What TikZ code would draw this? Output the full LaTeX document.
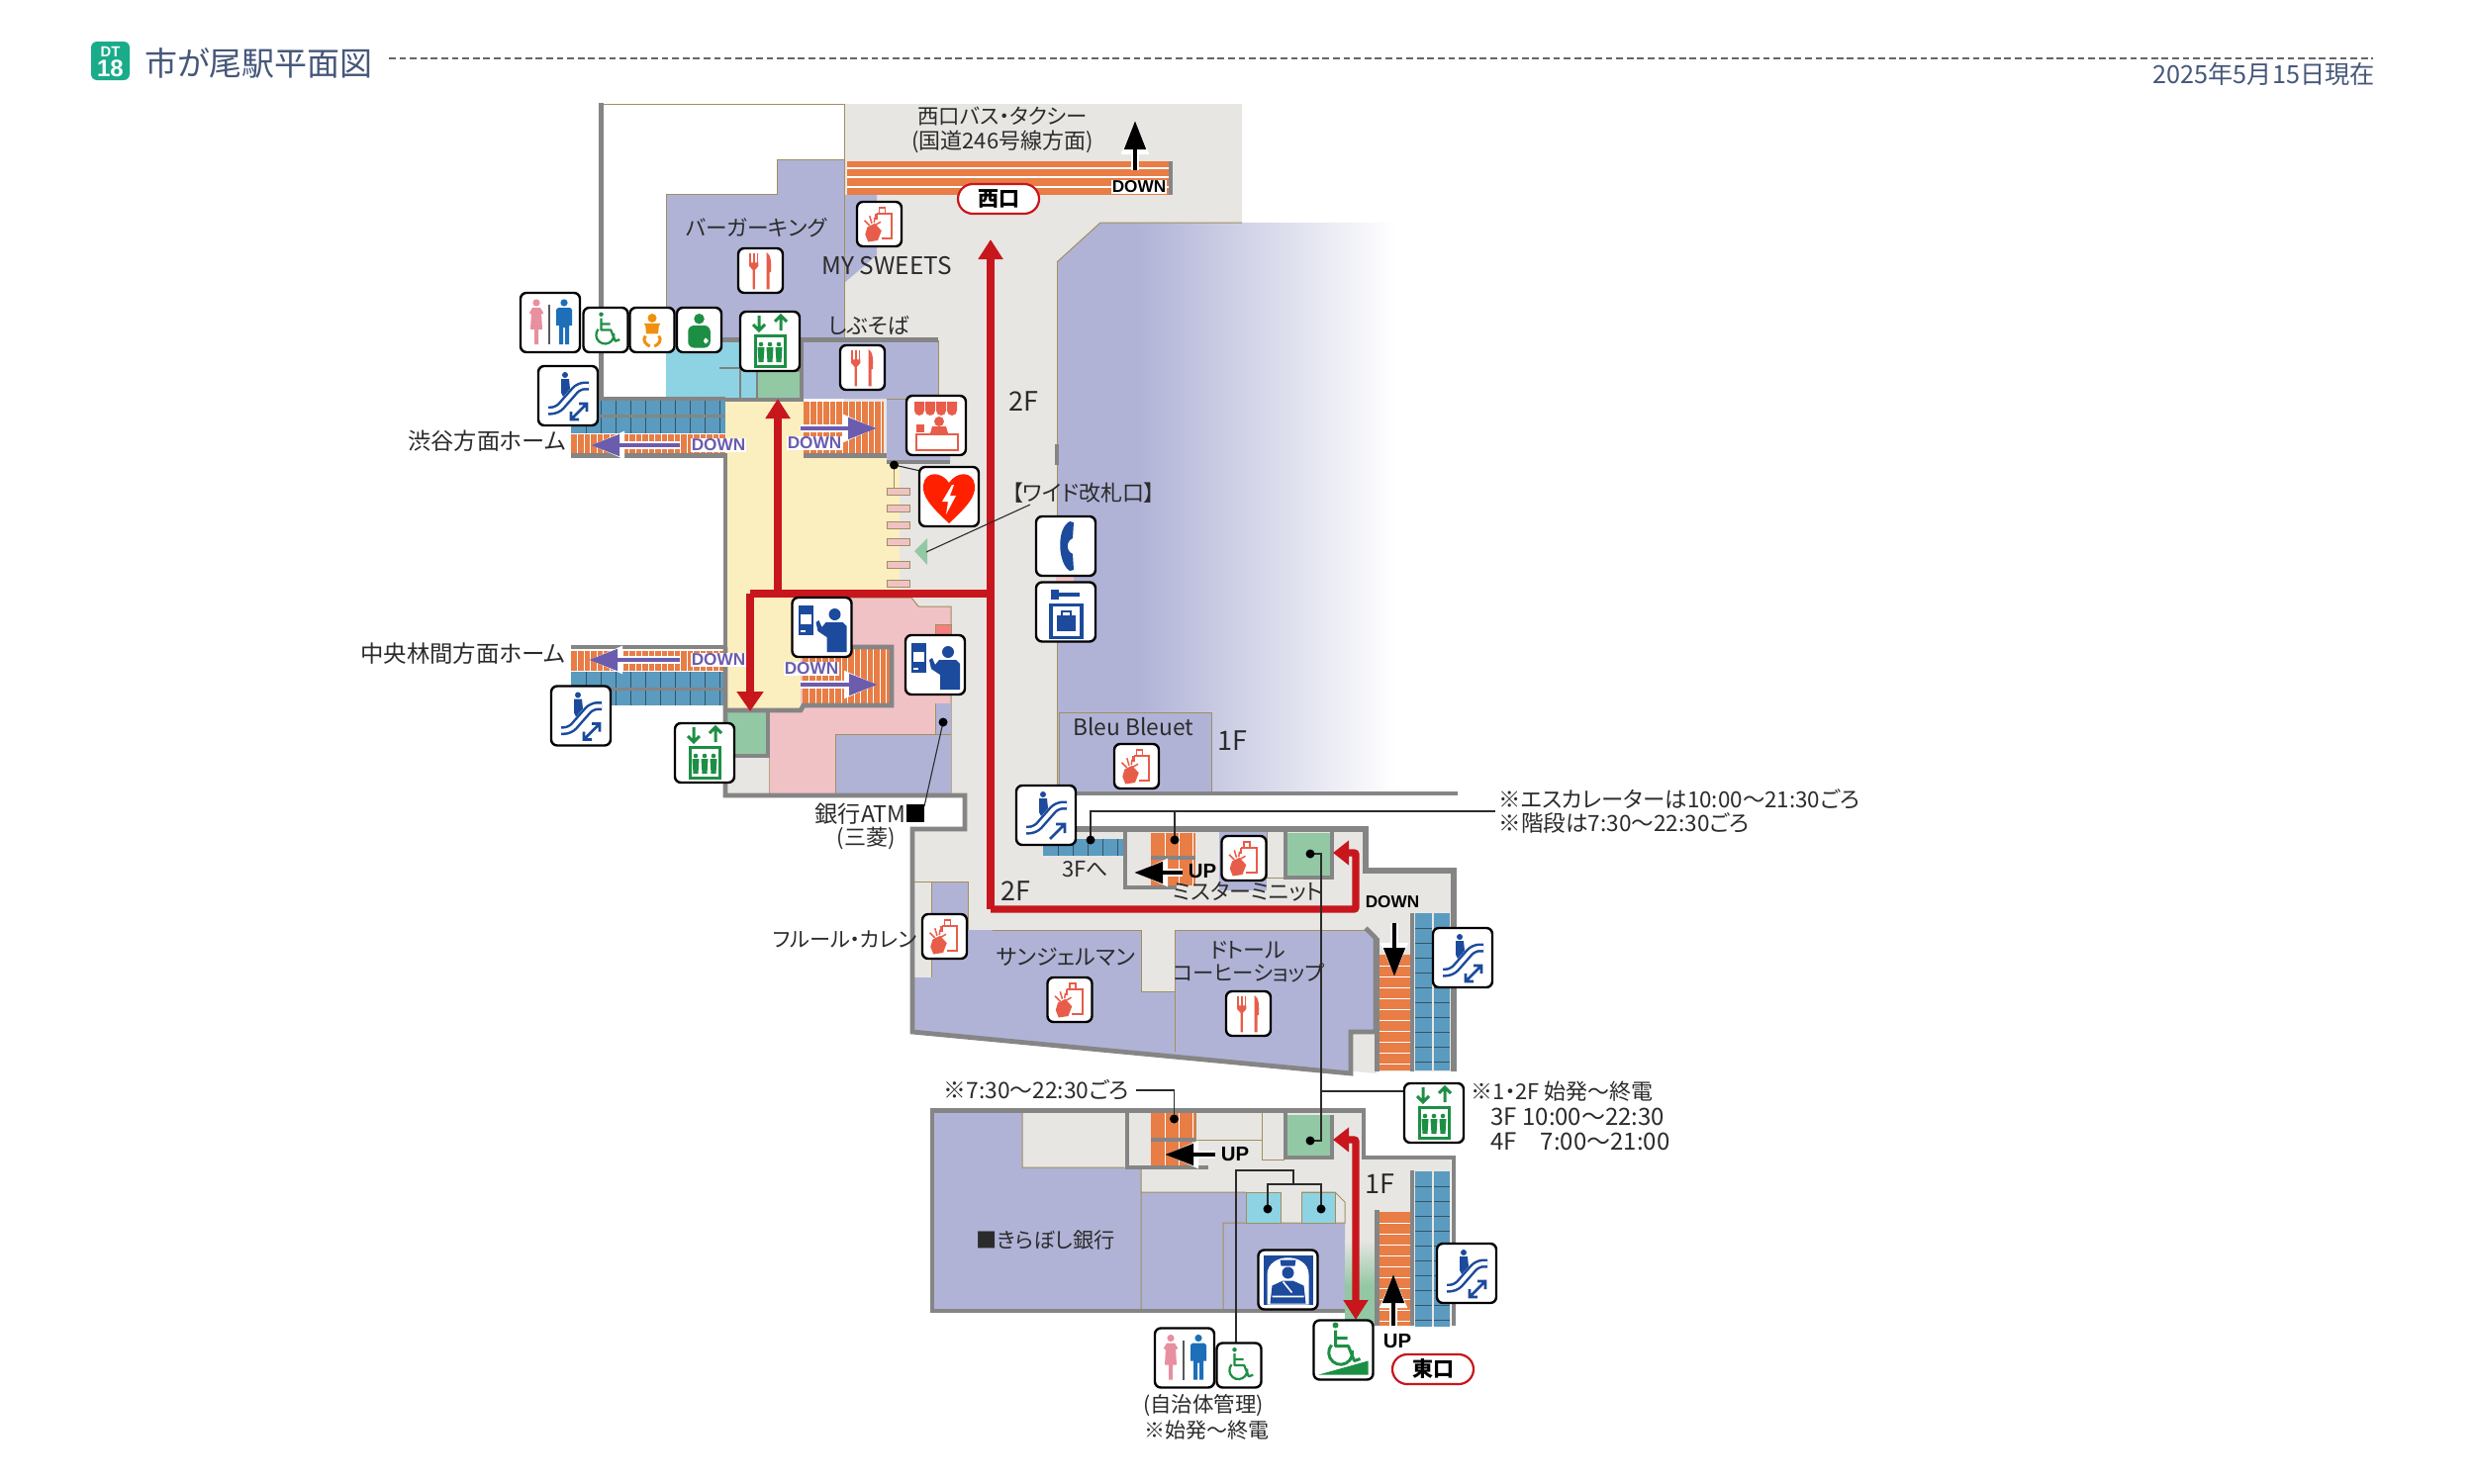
\documentclass[tikz,border=0pt]{standalone}
\usepackage{fontspec}
\setmainfont[RawFeature={+palt}]{Noto Sans CJK JP}
\newfontfamily\latinbold{Liberation Sans}
\usetikzlibrary{arrows.meta,calc}
\definecolor{cgray}{HTML}{E8E6E3}
\definecolor{cpur}{HTML}{B0B3D6}
\definecolor{cyel}{HTML}{FBEEBF}
\definecolor{cpink}{HTML}{F0C2C5}
\definecolor{cteal}{HTML}{8DD3E3}
\definecolor{cgrn}{HTML}{93C8A4}
\definecolor{corg}{HTML}{E87D45}
\definecolor{cblu}{HTML}{5B9BBF}
\definecolor{cwall}{HTML}{858585}
\definecolor{ctan}{HTML}{A08F60}
\definecolor{cred}{HTML}{C8161D}
\definecolor{cvio}{HTML}{6B5CAE}
\definecolor{ctitle}{HTML}{46577A}
\definecolor{cbadge}{HTML}{1AAB8A}
\definecolor{icb}{HTML}{1C4A9C}
\definecolor{icg}{HTML}{1D8F45}
\definecolor{icr}{HTML}{E85D4A}
\definecolor{icp}{HTML}{E88FA0}
\definecolor{icm}{HTML}{1C6FB8}
\definecolor{ico}{HTML}{F09010}
\definecolor{ctxt}{HTML}{2B2B2B}
\tikzset{
  wall/.style={draw=cwall,line width=2.4pt},
  tanl/.style={draw=ctan,line width=0.5pt},
  ld/.style={draw=ctxt,line width=0.55pt},
  lw/.style={line width={#1*0.5pt*\ics}},
  iconbox/.style={draw=black,fill=white,line width=1.2pt,rounded corners=3pt,inner sep=0pt},
  lbl/.style={inner sep=0pt,text=ctxt,font=\fontsize{#1}{#1}\selectfont,align=center},
  lbl/.default=10,
  pill/.style={draw=cred,line width=1.1pt,fill=white,rounded corners=7.5pt,minimum width=41pt,minimum height=15pt,inner sep=0pt,font=\fontsize{10.5}{10.5}\selectfont\bfseries},
  redl/.style={draw=cred,line width=3.7pt,line join=miter},
}
\newcommand{\icon}[5]{%
  \node[iconbox,minimum width={#4*0.5pt},minimum height={#4*0.5pt}] (#1) at (#2,#3) {};
  \begin{scope}[shift={(#2,#3)},scale={#4/60}]\pgfmathsetmacro\ics{#4/60}#5\end{scope}}
\newcommand{\lab}[5]{\node[lbl=#1,anchor=#4] (#5) at (#2) {#3};}
\newcommand{\dlab}[4]{\node[inner sep=0pt,font=\latinbold\bfseries\fontsize{8.6}{8.6}\selectfont,text=#1] (#4) at (#2) {#3};}
\newcommand{\dlabw}[4]{\node[inner sep=0.5pt,fill=white,font=\latinbold\bfseries\fontsize{8.6}{8.6}\selectfont,text=#1] (#4) at (#2) {#3};}
\newcommand{\ulab}[3]{\node[inner sep=0pt,font=\latinbold\bfseries\fontsize{10.2}{10.2}\selectfont] (#3) at (#1) {#2};}
% white-edged arrow: colour, from, to
\newcommand{\garrow}[3]{%
  \draw[white,line width=4pt,-{Triangle[length=17pt,width=13pt]}] #2 -- #3;
  \draw[#1,line width=2.4pt,-{Triangle[length=14.5pt,width=10.5pt]}] #2 -- #3;}
\newcommand{\stV}[5]{\fill[corg] (#1,#2) rectangle (#3,#4);
  \pgfmathtruncatemacro\nn{(#3-#1)/#5}
  \foreach \i in {1,...,\nn}{\draw[white,line width=0.5pt] ({#1+\i*#5},#2) -- ({#1+\i*#5},#4);}}
\newcommand{\stH}[5]{\fill[corg] (#1,#2) rectangle (#3,#4);
  \pgfmathtruncatemacro\nn{(#4-#2)/#5}
  \foreach \i in {1,...,\nn}{\draw[white,line width=0.5pt] (#1,{#2+\i*#5}) -- (#3,{#2+\i*#5});}}
\newcommand{\escH}[4]{\fill[cblu] (#1,#2) rectangle (#3,#4);
  \pgfmathtruncatemacro\nn{(#3-#1)/15}
  \foreach \i in {1,...,\nn}{\draw[black!45!cblu,line width=0.35pt] ({#1+\i*15},#2) -- ({#1+\i*15},#4);}}
\newcommand{\escV}[4]{\fill[cblu] (#1,#2) rectangle (#3,#4);
  \pgfmathtruncatemacro\nn{(#4-#2)/15}
  \foreach \i in {1,...,\nn}{\draw[black!45!cblu,line width=0.35pt] (#1,{#2+\i*15}) -- (#3,{#2+\i*15});}}
% glyphs
\newcommand{\gEscBase}{%
  \fill[icb] (-3,-21) circle[radius=3];
  \fill[icb] (-7,-17) -- (1,-17) -- (2,-7) -- (-5,1) -- (-7,-3) -- cycle;
  \draw[icb,lw=9,rounded corners=3pt] (-20,15) -- (-11,15) -- (11,-10) -- (21,-10);
  \draw[white,lw=4,rounded corners=3pt] (-20,15) -- (-11,15) -- (11,-10) -- (21,-10);}
\newcommand{\gEscUp}{\gEscBase
  \draw[icb,lw=2.6] (4,24) -- (19,9) (10,9) -- (19,9) -- (19,18);}
\newcommand{\gEsc}{\gEscBase
  \draw[icb,lw=2.6] (3,24) -- (19,8) (11,8) -- (19,8) -- (19,16) (3,16) -- (3,24) -- (11,24);}
\newcommand{\gPeople}{\foreach \px in {-9,0,9}{%
    \fill[icg] (\px,3) circle[radius=2.3];
    \fill[icg] ({\px-3.5},6) -- ({\px+3.5},6) -- ({\px+2.5},21) -- ({\px-2.5},21) -- cycle;}}
\newcommand{\gElev}{%
  \draw[icg,lw=3] (-11,-26) -- (-11,-11) (-17,-17) -- (-11,-11) -- (-5,-17);
  \draw[icg,lw=3] (11,-11) -- (11,-26) (5,-20) -- (11,-26) -- (17,-20);
  \draw[icg,lw=3] (-15,-6) rectangle (15,25);\gPeople}
\newcommand{\gBag}{%
  \draw[icr,lw=3] (-4,-14) -- (17,-14) -- (17,19) -- (3,19);
  \draw[icr,lw=2.5] (0,-14) -- (0,-22) -- (8,-22) -- (8,-14);
  \draw[icr,lw=3] (-4,-14) -- (-4,-6);
  \fill[icr] (-16,4) -- (-6,-1) -- (3,9) -- (-2,22) -- (-15,24) -- (-19,14) -- cycle;
  \draw[icr,lw=2] (-10,-1) -- (-13,-11) (-7,-2) -- (-6,-9) (-13,2) -- (-20,-5) (-5,1) -- (2,-3);}
\newcommand{\gFork}{%
  \draw[icr,lw=2.4] (-14,-24) -- (-14,-10) (-9,-24) -- (-9,-10) (-4,-24) -- (-4,-10);
  \fill[icr] (-15.2,-11) -- (-2.8,-11) -- (-2.8,-6) -- (-7.5,-1) -- (-7.5,25) -- (-10.5,25) -- (-10.5,-1) -- (-15.2,-6) -- cycle;
  \fill[icr] (8,-25) .. controls (14,-22) and (15,-10) .. (14,2) -- (12,2) -- (12,25) -- (8,25) -- cycle;}
\newcommand{\gTicket}{%
  \fill[icb] (-24,-22) rectangle (-9,8);
  \fill[white] (-22,-13) rectangle (-11,-3);
  \fill[white] (-22,3) rectangle (-17,5);
  \fill[icb] (13,-13) circle[radius=6];
  \fill[icb] (4,-5) -- (21,-5) -- (25,-1) -- (25,25) -- (5,25) -- (5,10) -- (-4,4) -- (-6,-5) -- (-3,-7) -- (0,0) -- cycle;}
\newcommand{\gWC}{%
  \fill[icp] (-14,-20) circle[radius=3.6];
  \fill[icp] (-18,-15) -- (-10,-15) -- (-7,-10) -- (-8,-8) -- (-9,-10) -- (-8,7) -- (-12,7) -- (-12,22) -- (-16,22) -- (-16,7) -- (-20,7) -- (-19,-10) -- (-20,-8) -- (-21,-10) -- cycle;
  \draw[black!65,lw=2.6] (-1,-18) -- (-1,22);
  \fill[icm] (14,-20) circle[radius=3.6];
  \fill[icm] (8,-15) -- (20,-15) -- (22,-13) -- (22,3) -- (19,3) -- (19,22) -- (15,22) -- (15,5) -- (13,5) -- (13,22) -- (9,22) -- (9,3) -- (6,3) -- (6,-13) -- cycle;}
\newcommand{\gWheelchair}{%
  \fill[icg] (-6,-21) circle[radius=3];
  \draw[icg,lw=3,line join=round] (-6,-16) -- (-6,0) -- (7,0) -- (13,15) -- (19,13) (-6,-8) -- (6,-8);
  \draw[icg,lw=3] (-10,-1) arc[start angle=220,end angle=-10,radius=12];}
\newcommand{\gWheel}{\gWheelchair}
\newcommand{\gBaby}{%
  \fill[ico] (0,-16) circle[radius=6];
  \fill[ico] (-11,-9) -- (-5,-9) -- (5,-9) -- (11,-9) -- (9,-5) -- (8,5) -- (-8,5) -- (-9,-5) -- cycle;
  \draw[ico,lw=4] (-9,8) .. controls (-14,14) and (-8,20) .. (-3,22) (9,8) .. controls (14,14) and (8,20) .. (3,22);}
\newcommand{\gMed}{%
  \fill[icg] (0,-15) circle[radius=7];
  \fill[icg,rounded corners=3pt] (-15,-6) -- (15,-6) -- (15,24) -- (-15,24) -- cycle;
  \fill[white] (6,13) rectangle (12,16) (7.5,11) rectangle (10.5,18);}
\newcommand{\gKiosk}{%
  \foreach \k in {-22,-11,0,11}{\fill[icr] (\k,-24) -- ({\k+10},-24) -- ({\k+10},-15) arc[start angle=0,end angle=180,radius=5] -- cycle;}
  \fill[icr] (3,-4) circle[radius=5];
  \fill[icr] (-6,8) -- (-4,1) -- (10,1) -- (12,8) -- cycle;
  \fill[icr] (-20,-1) rectangle (-12,7);
  \draw[icr,lw=2] (-20,9) rectangle (22,25);}
\newcommand{\gAED}{%
  \fill[red!75!orange] (0,27) .. controls (-16,12) and (-28,0) .. (-26,-12) .. controls (-24,-26) and (-8,-26) .. (0,-14) .. controls (8,-26) and (24,-26) .. (26,-12) .. controls (28,0) and (16,12) .. (0,27) -- cycle;
  \fill[white] (3,-12) -- (-7,5) -- (-1,5) -- (-3,18) -- (7,-1) -- (1,-1) -- (5,-12) -- cycle;}
\newcommand{\gPhone}{%
  \fill[icb] (4,-25) -- (8,-24) -- (7,-8) -- (4,-6) .. controls (1,-2) and (1,2) .. (4,6) -- (7,8) -- (8,24) -- (4,25) .. controls (-8,18) and (-10,-18) .. (4,-25) -- cycle;}
\newcommand{\gLocker}{%
  \fill[icb] (-15,-23) rectangle (-7,-13);
  \fill[icb] (-7,-20) rectangle (14,-16);
  \draw[icb,lw=3.6] (-15,-7) rectangle (16,26);
  \fill[icb] (-9,3) rectangle (10,19);
  \draw[icb,lw=2] (-4,3) -- (-4,-1) -- (5,-1) -- (5,3);}
\newcommand{\gPolice}{%
  \fill[icb] (-25,-25) rectangle (25,25);
  \fill[white] (-21,25) -- (-21,-5) .. controls (-21,-28) and (21,-28) .. (21,-5) -- (21,25) -- cycle;
  \fill[icb] (-8,-20) -- (8,-20) -- (7,-14) -- (-7,-14) -- cycle;
  \fill[icb] (0,-7) circle[radius=6];
  \fill[icb] (-18,24) -- (-16,6) -- (-5,1) -- (5,1) -- (16,6) -- (18,24) -- cycle;
  \draw[white,lw=1.6] (-5,2) -- (4,13) (-16,17) -- (16,17);}
\newcommand{\gRamp}{\begin{scope}[shift={(-2,-4)}]\gWheelchair\end{scope}
  \fill[icg] (-25,25) -- (25,11) -- (25,25) -- cycle;}
\begin{document}
\begin{tikzpicture}[x=0.5pt,y=-0.5pt]
\useasboundingbox (0,0) rectangle (2500,1499);
\fill[white] (0,0) rectangle (2500,1499);
% ===== floor areas =====
\fill[cgray] (853,105) -- (1255,105) -- (1255,225) -- (1112,225) -- (1068,265) -- (1068,838) -- (1378,838) -- (1378,880) -- (1466,880) -- (1466,1083) -- (1391,1083) -- (1391,1085) -- (922,1043) -- (922,838) -- (975,838) -- (975,802) -- (853,802) -- cycle;
% store
\fill[cpur] (1068,265) -- (1112,225) -- (1150,225) -- (1150,802) -- (1068,802) -- cycle;
\shade[left color=cpur,right color=white,shading=axis] (1150,225) rectangle (1410,802);
\draw[tanl] (1068,265) -- (1112,225) -- (1255,225);
\draw[tanl] (853,105) -- (853,161);
\draw[tanl] (607,105) -- (853,105);
\draw[tanl] (1068,265) -- (1068,802);
\fill[cpur] (1070,720) rectangle (1224,802);
\draw[tanl] (1224,802) -- (1224,720) -- (1070,720) -- (1070,802);
% burger king etc
\fill[cpur] (673,196) -- (785,196) -- (785,161) -- (853,161) -- (853,344) -- (673,344) -- cycle;
\fill[cpur] (853,197) -- (886,197) -- (886,258) -- (853,286) -- cycle;
\draw[tanl] (673,344) -- (673,196) -- (785,196) -- (785,161) -- (853,161) -- (853,344);
\fill[cteal] (673,344) rectangle (768,403);
\fill[cgrn] (766,376) rectangle (810,403);
\draw[ctxt!60,line width=0.7pt] (727,372) -- (748,372) -- (748,403) (765,372) -- (765,403);
\draw[wall,line width=1pt] (765,375) -- (810,375);
\fill[cpur] (812,344) -- (948,344) -- (948,400) -- (960,400) -- (960,467) -- (896,467) -- (896,403) -- (812,403) -- cycle;
\draw[tanl] (948,344) -- (948,400);
% concourse
\fill[cyel] (733,404) -- (812,404) -- (812,460) -- (896,460) -- (896,467) -- (909,467) -- (909,600) -- (809,600) -- (809,718) -- (733,718) -- cycle;
\draw[ctan,line width=0.4pt] (896,403) -- (916,403);
\fill[cpink] (809,604) -- (921,604) -- (928,613) -- (961,613) -- (961,802) -- (777,802) -- (777,718) -- (809,718) -- cycle;
\draw[tanl] (809,604) -- (921,604) -- (928,613) -- (961,613) -- (961,802) (777,718) -- (777,802);
\fill[cpur] (844,742) rectangle (961,802);
\fill[cpur] (945,711) rectangle (961,742);
\draw[tanl] (961,742) -- (844,742) -- (844,802) (945,742) -- (945,711);
\fill[red!35!cpink] (945,631) rectangle (961,642);
\draw[tanl] (945,631) rectangle (961,642);
\fill[cgrn] (734,720) rectangle (776,763);
\fill[cgray] (734,766) rectangle (777,802);
% gates
\foreach \a/\b in {493/500,510/517,527/534,544/551,567/574,586/593}{\fill[cpink] (896,\a) rectangle (919,\b);\draw[ctan,line width=0.35pt] (896,\a) rectangle (919,\b);}
\fill[cpink] (1067,582) rectangle (1085,590);
% west exit stairs
\fill[corg] (856,163) rectangle (1184,197);
\foreach \a in {170,179,189}{\draw[white,line width=0.8pt] (856,\a) -- (1184,\a);}
% north stairs and escalators
\escH{577}{403}{733}{419}
\escH{577}{422}{733}{438}
\fill[cwall] (577,419) rectangle (733,422);
\stV{577}{439}{733}{460}{6.5}
\stV{812}{406}{893}{460}{6.5}
\stV{577}{658}{733}{678}{6.5}
\escH{577}{679}{733}{695}
\escH{577}{697}{733}{713}
\fill[cwall] (577,695) rectangle (733,698);
\stV{811}{656}{899}{712}{6.5}
% 2F lower
\fill[cpur] (941.5,891) rectangle (978,940);
\fill[cpur] (941.5,940) rectangle (1003,988);
\draw[tanl] (941.5,988) -- (941.5,891) -- (978,891) -- (978,940) (1003,940) -- (1003,988) -- (924,988);
\draw[tanl] (924,891) -- (941,891);
\fill[cpur] (924,988) -- (1003,988) -- (1003,940) -- (1153,940) -- (1153,1002) -- (1187,1002) -- (1187,940) -- (1380,940) -- (1390,948) -- (1390,1043) -- (1365,1043) -- (1365,1085) -- (924,1043) -- cycle;
\draw[tanl] (1003,940) -- (1153,940) -- (1153,1002) -- (1187,1002) -- (1187,940) -- (1380,940);
\draw[tanl] (1187,1002) -- (1187,1063);
\escH{1054}{848}{1137}{865}
\stV{1163}{842}{1208}{895}{14}
\fill[cpur] (1232,840) rectangle (1280,900);
\draw[tanl] (1280,840) -- (1280,887) -- (1299,887);
\fill[cgrn] (1300,842) rectangle (1346,887);
\stH{1394}{965}{1425}{1082}{11}
\escV{1430}{923}{1447}{1082}
\escV{1449}{923}{1465}{1082}
% 1F
\fill[cgray] (943,1125) -- (1378,1125) -- (1378,1172) -- (1466,1172) -- (1466,1340) -- (1359,1340) -- (1359,1325) -- (943,1325) -- cycle;
\fill[cpur] (943,1125) -- (1033,1125) -- (1033,1180) -- (1153,1180) -- (1153,1205) -- (1259,1205) -- (1259,1236) -- (1359,1236) -- (1359,1325) -- (943,1325) -- cycle;
\draw[tanl] (1033,1125) -- (1033,1180) -- (1136,1180) (1153,1180) -- (1153,1325) (1153,1205) -- (1259,1205) (1236,1325) -- (1236,1236) -- (1359,1236) -- (1359,1215) -- (1349,1205) -- (1315,1205);
\fill[cteal] (1259,1205) rectangle (1294,1236);
\fill[cteal] (1315,1205) rectangle (1349,1236);
\draw[tanl] (1259,1205) rectangle (1294,1236) (1315,1205) rectangle (1349,1236);
\draw[tanl] (1208,1125) -- (1208,1152) -- (1275,1152) (1275,1125) -- (1275,1172) -- (1298,1172) (1208,1152) -- (1208,1178);
\shade[top color=cgray,bottom color=cgrn] (1359,1253) rectangle (1390,1300);
\fill[cgrn] (1359,1300) rectangle (1390,1340);
\stV{1163}{1125}{1208}{1178}{14}
\fill[cgrn] (1300,1127) rectangle (1346,1170);
\stH{1394}{1225}{1425}{1340}{11}
\escV{1430}{1184}{1447}{1341}
\escV{1449}{1184}{1465}{1341}
% ===== walls =====
\draw[wall] (607.5,104) -- (607.5,403);
\draw[wall] (730,343.5) -- (948,343.5);
\draw[wall] (810,345) -- (810,402);
\draw[wall] (733,404) -- (812,404);
\draw[wall,line width=1.6pt] (577,403) -- (733,403);
\draw[wall] (577,460.5) -- (733,460.5) -- (733,654) -- (577,654);
\draw[wall] (812,460.5) -- (896,460.5);
\draw[wall] (896,467) -- (960,467);
\draw[wall] (733,654) -- (733,804) -- (975,804) -- (975,838) -- (922,838) -- (922,1043) -- (1365,1085) -- (1365,1043) -- (1390,1043) -- (1390,948) -- (1380,938);
\draw[wall] (733,718) -- (809,718) -- (812,713) -- (901,713) -- (901,654) -- (860,654);
\draw[wall] (776,720) -- (776,764) -- (733,764);
\draw[wall] (1068,449) -- (1068,470);
\draw[wall] (1068,802) -- (1473,802);
\draw[wall,line width=2.6pt] (1086,838) -- (1380,838) -- (1380,880) -- (1469,880) -- (1469,1083);
\draw[wall] (1137,838) -- (1137,897) -- (1189,897);
\draw[wall] (1163,867) -- (1208,867);
\draw[wall] (1299,838) -- (1299,887) -- (1346,887) -- (1346,840);
\draw[wall] (1391.5,948) -- (1391.5,1083);
\draw[wall] (1427,923) -- (1427,1083);
\draw[wall] (1183,163) -- (1183,197);
\draw[wall] (942,1125) -- (942,1325) -- (1359,1325);
\draw[wall] (940,1122.5) -- (1378,1122.5) -- (1378,1170) -- (1469,1170) -- (1469,1340);
\draw[wall] (1139,1125) -- (1139,1180) -- (1221,1180);
\draw[wall] (1163,1152) -- (1208,1152);
\draw[wall] (1299,1125) -- (1299,1170) -- (1346,1170) -- (1346,1127);
\draw[wall] (1391.5,1223) -- (1391.5,1340);
\draw[wall] (1427,1183) -- (1427,1340);
% ===== routes =====
\coordinate (wtip) at (1001,242);
\coordinate (wj) at (1001,600);
\coordinate (wjb) at (1001,919);
\coordinate (ecor) at (1370,919);
\coordinate (ecor2) at (1370,862);
\coordinate (etip) at (1347,862);
\coordinate (nj) at (786,600);
\coordinate (ntip) at (786,403);
\coordinate (sj) at (758,600);
\coordinate (stip) at (758,719);
\coordinate (f1top) at (1370,1152);
\coordinate (f1tip) at (1347,1152);
\coordinate (f1bot) at (1370,1334);
\draw[redl,-{Triangle[length=10pt,width=12pt]}] (wj) -- (wtip);
\draw[redl,-{Triangle[length=10pt,width=12pt]}] (nj) -- (ntip);
\draw[redl,-{Triangle[length=10pt,width=13pt]}] (sj) -- (stip);
\draw[redl] (sj) -- (wj) -- (wjb);
\draw[redl,rounded corners=1pt,-{Triangle[length=8pt,width=12pt]}] (wjb) -- (ecor) -- (ecor2) -- (etip);
\draw[redl,{Triangle[length=8pt,width=12pt]}-{Triangle[length=10pt,width=12pt]},rounded corners=1pt] (f1tip) -- (f1top) -- (f1bot);
% gate arrow
\fill[cgrn] (924,557) -- (937,544) -- (937,571) -- cycle;
\coordinate (wideA) at (1041,510);
\coordinate (wideB) at (936,558);
\draw[ld] (wideA) -- (wideB);
% block arrows
\coordinate (vaA) at (687,450); \coordinate (vaB) at (597,450);
\coordinate (vbA) at (809,433); \coordinate (vbB) at (886,433);
\coordinate (vcA) at (687,667); \coordinate (vcB) at (595,667);
\coordinate (vdA) at (809,692); \coordinate (vdB) at (887,692);
\garrow{cvio}{(vaA)}{(vaB)}
\garrow{cvio}{(vbA)}{(vbB)}
\garrow{cvio}{(vcA)}{(vcB)}
\garrow{cvio}{(vdA)}{(vdB)}
\coordinate (kaA) at (1147,172); \coordinate (kaB) at (1147,122);
\coordinate (kbA) at (1195,882); \coordinate (kbB) at (1146,882);
\coordinate (kcA) at (1228,1167); \coordinate (kcB) at (1177,1167);
\coordinate (kdA) at (1409,933); \coordinate (kdB) at (1409,987);
\coordinate (keA) at (1408,1340); \coordinate (keB) at (1408,1288);
\garrow{black}{(kaA)}{(kaB)}
\garrow{black}{(kbA)}{(kbB)}
\garrow{black}{(kcA)}{(kcB)}
\garrow{black}{(kdA)}{(kdB)}
\garrow{black}{(keA)}{(keB)}
% ===== leader lines =====
\coordinate (dAed) at (903.5,470);
\coordinate (dEsc) at (1102,849);
\coordinate (dSt) at (1187,849);
\coordinate (noteEnd) at (1511,820);
\coordinate (dEl2) at (1324,863);
\coordinate (dEl1) at (1324,1153);
\coordinate (dSt1) at (1186.5,1131);
\coordinate (noteB) at (1148,1102);
\coordinate (dAtm) at (953,730);
\coordinate (atmEnd) at (934,815);
\coordinate (dWc1) at (1281,1222);
\coordinate (dWc2) at (1335,1222);
\coordinate (wcTop) at (1307,1197);
\coordinate (wcEnd) at (1249,1358);
\coordinate (elLeft) at (1335,1103);
\draw[ld] (dEsc) -- (1102,820) -- (noteEnd);
\draw[ld] (dSt) -- (1187,820);
\draw[ld] (dEl2) -- (1335,863) -- (1335,1153) -- (dEl1);
\draw[ld] (noteB) -- (1186.5,1102) -- (dSt1);
\draw[ld] (dAtm) -- (atmEnd);
\draw[ld] (dWc1) -- (1281,1197) -- (1335,1197) -- (dWc2);
\draw[ld] (wcTop) -- (1307,1183) -- (1249,1183) -- (wcEnd);
\draw[ld] (elLeft) -- (1419,1103);
\draw[tanl] (dAed) -- (903.5,493);
\draw[ld] (dAed) -- (930,476);
\foreach \d in {dAed,dEsc,dSt,dEl2,dEl1,dSt1,dAtm,dWc1,dWc2}{\fill[black] (\d) circle[radius=4.5];}
% ===== icons =====
\icon{iWC}{556}{326}{60}{\gWC}
\icon{iWh}{612}{333.5}{45}{\gWheel}
\icon{iBa}{659}{333.5}{45}{\gBaby}
\icon{iMe}{706.5}{333.5}{45}{\gMed}
\icon{iEl1}{778}{345}{60}{\gElev}
\icon{iEs1}{574}{400}{60}{\gEsc}
\icon{iFk1}{768.5}{273.5}{45}{\gFork}
\icon{iBg1}{888.5}{226.5}{45}{\gBag}
\icon{iFk2}{871.5}{371.5}{45}{\gFork}
\icon{iKi}{946}{430}{60}{\gKiosk}
\icon{iAE}{959}{502}{60}{\gAED}
\icon{iPh}{1077}{552}{60}{\gPhone}
\icon{iLo}{1077}{618.5}{60}{\gLocker}
\icon{iTi1}{830.5}{634}{60}{\gTicket}
\icon{iTi2}{945}{672}{60}{\gTicket}
\icon{iEs2}{587}{723.5}{60}{\gEsc}
\icon{iEl2}{712}{761}{60}{\gElev}
\icon{iBg2}{1148.5}{774.5}{45}{\gBag}
\icon{iEs3}{1057}{824}{60}{\gEscUp}
\icon{iBg3}{1257}{867.5}{45}{\gBag}
\icon{iBg4}{954.5}{946.5}{45}{\gBag}
\icon{iBg5}{1081}{1010.5}{45}{\gBag}
\icon{iFk3}{1261.5}{1024.5}{45}{\gFork}
\icon{iEs4}{1478}{968}{60}{\gEsc}
\icon{iEl3}{1449}{1125}{60}{\gElev}
\icon{iEs5}{1482}{1287}{60}{\gEsc}
\icon{iPo}{1301.5}{1293.5}{60}{\gPolice}
\icon{iWC2}{1197}{1372.5}{60}{\gWC}
\icon{iWh2}{1252}{1380}{45}{\gWheel}
\icon{iRa}{1357.5}{1364.5}{60}{\gRamp}
% ===== header =====
\fill[cbadge,rounded corners=3pt] (92,42) rectangle (131,81);
\node[inner sep=0pt,text=white,font=\latinbold\bfseries\fontsize{7.4}{7.4}\selectfont] (tDT) at (111.5,52) {DT};
\node[inner sep=0pt,text=white,font=\latinbold\bfseries\fontsize{12}{12}\selectfont] (t18) at (111.5,69) {18};
\node[inner sep=0pt,anchor=west,text=ctitle,font=\fontsize{16.5}{16.5}\selectfont] (tTitle) at (146,64) {市が尾駅平面図};
\coordinate (dashA) at (393,59); \coordinate (dashB) at (2398,59);
\draw[black!60,line width=0.75pt,dash pattern=on 3.4pt off 1.9pt] (dashA) -- (dashB);
\node[inner sep=0pt,anchor=east,text=ctitle,font=\fontsize{12.6}{12.6}\selectfont] (tDate) at (2400,75) {2025年5月15日現在};
% ===== labels =====
\lab{10.7}{1013,118}{西口バス・タクシー}{center}{l1}
\lab{11}{1013,143.5}{(国道246号線方面)}{center}{l2}
\node[pill] (pW) at (1009,201) {西口};
\node[pill] (pE) at (1448,1384) {東口};
\dlabw{black}{1151,189}{DOWN}{d1}
\dlab{black}{1407,912}{DOWN}{d2}
\ulab{1215,881}{UP}{d3}
\ulab{1248,1167}{UP}{d4}
\ulab{1412,1356}{UP}{d5}
\dlabw{cvio}{726,450}{DOWN}{d6}
\dlabw{cvio}{823,448}{DOWN}{d7}
\dlabw{cvio}{726,667}{DOWN}{d8}
\dlabw{cvio}{820,676}{DOWN}{d9}
\lab{10.8}{764,230}{バーガーキング}{center}{l3}
\lab{12.2}{896,268.5}{MY SWEETS}{center}{l4}
\lab{11}{878,329}{しぶそば}{center}{l5}
\lab{13.5}{1034.5,406}{2F}{center}{l6}
\lab{11.6}{572,446}{渋谷方面ホーム}{east}{l7}
\lab{11.7}{572,661}{中央林間方面ホーム}{east}{l8}
\lab{11}{1095,498}{【ワイド改札口】}{center}{l9}
\lab{11.6}{916,823}{銀行ATM}{east}{l10}
\fill[black] (916,813) rectangle (934,831);
\lab{11}{875,847}{(三菱)}{center}{l11}
\lab{11}{1096.5,879}{3Fへ}{center}{l12}
\lab{13.5}{1026,900.5}{2F}{center}{l13}
\lab{11}{1261,901}{ミスターミニット}{center}{l14}
\lab{11.4}{1145,735}{Bleu Bleuet}{center}{l15}
\lab{13.5}{1245,749}{1F}{center}{l16}
\lab{10.6}{927,949}{フルール・カレン}{east}{l17}
\lab{11}{1077,967}{サンジェルマン}{center}{l18}
\lab{11}{1261,960}{ドトール}{center}{l19}
\lab{10.7}{1262,983}{コーヒーショップ}{center}{l20}
\lab{11.4}{1141,1102}{※7:30〜22:30ごろ}{east}{l21}
\lab{11.2}{1514,808}{※エスカレーターは10:00〜21:30ごろ}{west}{l22}
\lab{11.3}{1514,832}{※階段は7:30〜22:30ごろ}{west}{l23}
\lab{11}{1486,1103}{※1・2F 始発〜終電}{west}{l24}
\lab{12}{1506,1129}{3F 10:00〜22:30}{west}{l25}
\lab{12}{1506,1154}{4F\hspace{1em}7:00〜21:00}{west}{l26}
\lab{10.6}{986,1253}{■きらぼし銀行}{west}{l27}
\lab{13.5}{1394,1197}{1F}{center}{l28}
\lab{10.7}{1216,1421}{(自治体管理)}{center}{l29}
\lab{10.5}{1219,1446}{※始発〜終電}{center}{l30}
\end{tikzpicture}
\end{document}
